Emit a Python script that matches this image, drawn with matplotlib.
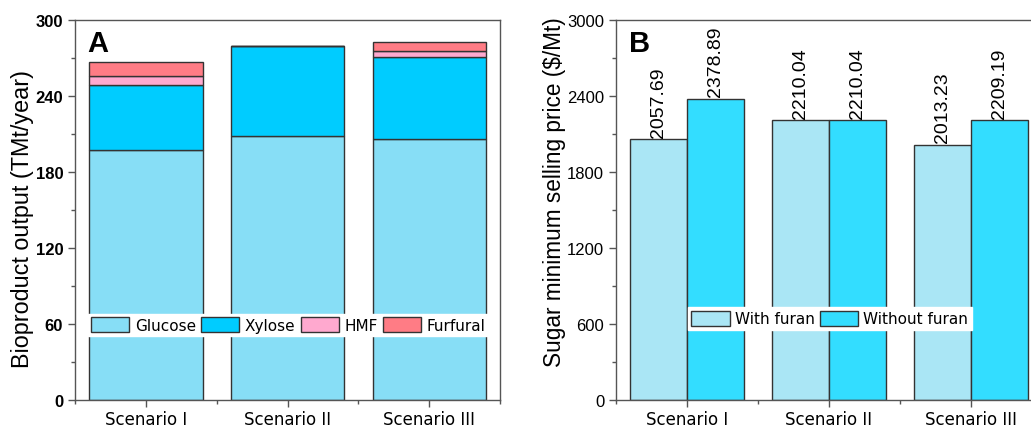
import numpy as np
import matplotlib
matplotlib.use("Agg")
import matplotlib.pyplot as plt
from matplotlib.ticker import MultipleLocator

# --- data ---
scenarios = ["Scenario I", "Scenario II", "Scenario III"]

glucose = [197.1, 208.2, 206.0]
xylose = [51.6, 71.0, 64.8]
hmf = [7.3, 0.0, 4.7]
furfural = [10.6, 0.0, 6.9]

with_furan = [2057.69, 2210.04, 2013.23]
without_furan = [2378.89, 2210.04, 2209.19]

# --- style ---
C_GLU = "#87DEF6"
C_XYL = "#00CCFF"
C_HMF = "#FFA9CF"
C_FUR = "#FF7C85"
C_WITH = "#AAE6F5"
C_WITHOUT = "#33DDFF"
EDGE = "#333333"
SPINE = "#555555"

fig = plt.figure(figsize=(10.31, 4.27), dpi=100)
W, H = 1031, 427
axA = fig.add_axes([75 / W, (H - 401) / H, 425 / W, 380 / H])
axB = fig.add_axes([616 / W, (H - 401) / H, 426 / W, 380 / H])

x = np.arange(len(scenarios))

# --- panel A: stacked bars ---
bottom = np.zeros(len(scenarios))
for vals, col, lab in [(glucose, C_GLU, "Glucose"), (xylose, C_XYL, "Xylose"),
                       (hmf, C_HMF, "HMF"), (furfural, C_FUR, "Furfural")]:
    axA.bar(x, vals, 0.8, bottom=bottom, color=col, edgecolor=EDGE,
            linewidth=1.0, label=lab)
    bottom += np.array(vals)

axA.set_xlim(-0.5, 2.5)
axA.set_ylim(0, 300)
axA.yaxis.set_major_locator(MultipleLocator(60))
axA.yaxis.set_minor_locator(MultipleLocator(30))
axA.xaxis.set_minor_locator(MultipleLocator(0.5))
axA.set_xticks(x)
axA.set_xticklabels(scenarios, fontsize=12, family="DejaVu Sans")
for lbl in axA.get_yticklabels():
    lbl.set_fontweight("bold")
    lbl.set_fontsize(12)
    lbl.set_family("Liberation Sans")
axA.set_ylabel("Bioproduct output (TMt/year)", fontsize=16.8,
               family="Liberation Sans")
axA.yaxis.set_label_coords(-0.097, 0.48)
axA.text(0.03, 0.975, "A", transform=axA.transAxes, fontsize=21,
         fontweight="bold", family="Liberation Sans", va="top", ha="left")
axA.legend(ncol=4, loc="center", bbox_to_anchor=(0.502, 0.197),
           prop={"family": "DejaVu Sans", "size": 11},
           frameon=True, fancybox=False, framealpha=1,
           edgecolor="white", handlelength=2.5, handleheight=1.15,
           handletextpad=0.35, columnspacing=0.35, borderpad=0.22,
           borderaxespad=0)

# --- panel B: grouped bars ---
bw = 0.4
axB.bar(x - bw / 2, with_furan, bw, color=C_WITH, edgecolor=EDGE,
        linewidth=1.0, label="With furan")
axB.bar(x + bw / 2, without_furan, bw, color=C_WITHOUT, edgecolor=EDGE,
        linewidth=1.0, label="Without furan")
for i in range(len(scenarios)):
    axB.text(x[i] - bw / 2, with_furan[i] + 20, f"{with_furan[i]:.2f}",
             rotation=90, ha="center", va="bottom", fontsize=14,
             family="Liberation Sans")
    axB.text(x[i] + bw / 2, without_furan[i] + 20, f"{without_furan[i]:.2f}",
             rotation=90, ha="center", va="bottom", fontsize=14,
             family="Liberation Sans")

axB.set_xlim(-0.5, 2.5)
axB.set_ylim(0, 3000)
axB.yaxis.set_major_locator(MultipleLocator(600))
axB.yaxis.set_minor_locator(MultipleLocator(300))
axB.xaxis.set_minor_locator(MultipleLocator(0.5))
axB.set_xticks(x)
axB.set_xticklabels(scenarios, fontsize=12, family="DejaVu Sans")
for lbl in axB.get_yticklabels():
    lbl.set_fontsize(12)
    lbl.set_family("Liberation Sans")
axB.set_ylabel("Sugar minimum selling price ($/Mt)", fontsize=16.3,
               family="Liberation Sans")
axB.yaxis.set_label_coords(-0.117, 0.549)
axB.text(0.03, 0.975, "B", transform=axB.transAxes, fontsize=21,
         fontweight="bold", family="Liberation Sans", va="top", ha="left")
axB.legend(ncol=2, loc="center", bbox_to_anchor=(0.502, 0.2145),
           prop={"family": "DejaVu Sans", "size": 11},
           frameon=True, fancybox=False, framealpha=1, edgecolor="white",
           handlelength=2.5, handleheight=1.18, handletextpad=0.33,
           columnspacing=0.37, borderpad=0.23, borderaxespad=0)

for ax in (axA, axB):
    for sp in ax.spines.values():
        sp.set_color(SPINE)
        sp.set_linewidth(1.0)
    ax.tick_params(which="major", direction="out", length=5, width=1,
                   color=SPINE, right=False, top=False)
    ax.tick_params(which="minor", direction="out", length=3, width=1,
                   color=SPINE, right=False, top=False)
    ax.tick_params(axis="x", pad=2)

fig.savefig("out.png", dpi=100)
